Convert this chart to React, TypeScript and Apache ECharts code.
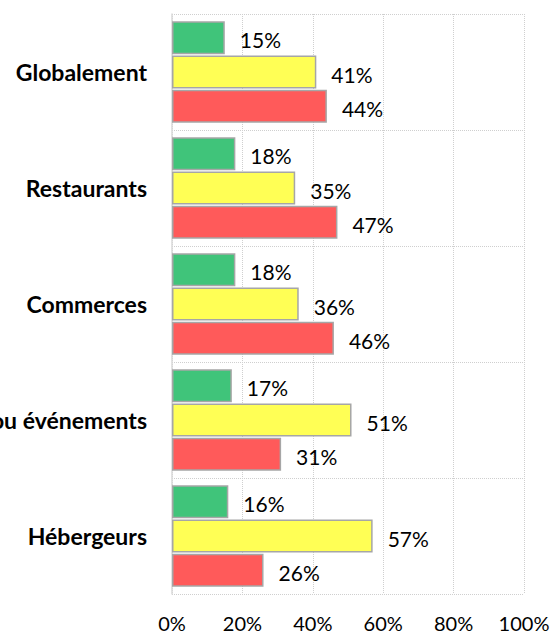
import React, { useEffect, useRef } from "react";
import * as echarts from "echarts";

const categories = ["Globalement", "Restaurants", "Commerces", "Sites ou événements", "Hébergeurs"];
const greenValues = [15, 18, 18, 17, 16];
const yellowValues = [41, 35, 36, 51, 57];
const redValues = [44, 47, 46, 31, 26];
const seriesNames = ["Vert", "Jaune", "Rouge"];
const seriesColors = ["#40C47A", "#FFFF55", "#FF5A5A"];

export default function App() {
  const ref = useRef<HTMLDivElement>(null);
  useEffect(() => {
    document.body.style.margin = "0";
    const chart = echarts.init(ref.current!, null, { renderer: "svg" });
    const font = "Lato, 'Open Sans', sans-serif";
    const mk = (name: string, data: number[], color: string) => ({
      name,
      type: "bar",
      data,
      barWidth: 33,
      barGap: "4%",
      itemStyle: { color, borderColor: "#A6A6A6", borderWidth: 1.5 },
      label: {
        show: true,
        position: "right",
        distance: 15,
        offset: [0, 2],
        formatter: "{c}%",
        color: "#000",
        fontSize: 21,
        fontFamily: font,
      },
    });
    chart.setOption({
      animation: false,
      grid: { left: 172, right: 28, top: 14, bottom: 43, containLabel: false, outerBoundsMode: "none" },
      xAxis: {
        type: "value",
        min: 0,
        max: 100,
        interval: 20,
        axisLine: { show: false },
        axisTick: { show: false },
        axisLabel: { formatter: "{value}%", color: "#000", fontSize: 20, lineHeight: 22, fontFamily: font, margin: 18 },
        splitLine: { show: true, lineStyle: { color: "#CFCFCF", type: "dotted", width: 1 } },
      },
      yAxis: {
        type: "category",
        inverse: true,
        data: categories,
        axisLine: { show: true, lineStyle: { color: "#D9D9D9", width: 1.5 } },
        axisTick: { show: false },
        axisLabel: { color: "#000", fontSize: 23, fontWeight: "bold", fontFamily: font, margin: 25 },
        splitLine: { show: true, lineStyle: { color: "#CFCFCF", type: "dotted", width: 1 } },
      },
      series: [
        mk(seriesNames[0], greenValues, seriesColors[0]),
        mk(seriesNames[1], yellowValues, seriesColors[1]),
        mk(seriesNames[2], redValues, seriesColors[2]),
      ],
    });
    return () => chart.dispose();
  }, []);
  return <div ref={ref} style={{ width: 552, height: 637 }} />;
}
